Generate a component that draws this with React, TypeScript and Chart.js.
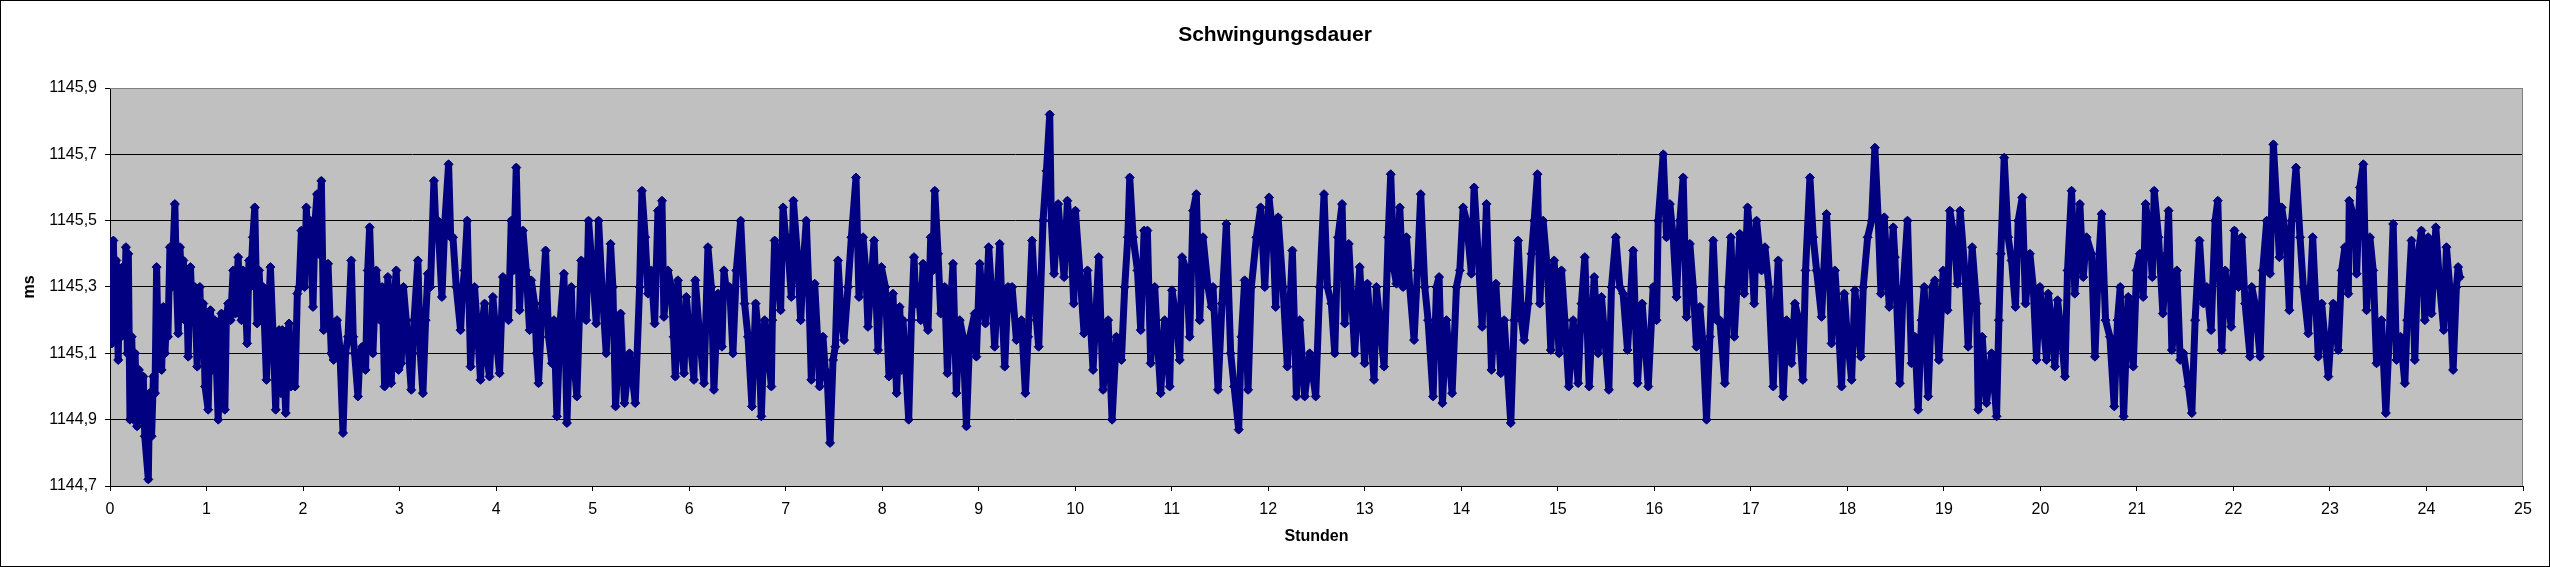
import { useEffect, useRef } from "react";
import { Chart, registerables } from "chart.js";

Chart.register(...registerables);

const TITLE = "Schwingungsdauer";
const X_TITLE = "Stunden";
const Y_TITLE = "ms";
const X_MIN = 0;
const X_MAX = 25;
const X_STEP = 1;
const Y_MIN = 1144.7;
const Y_MAX = 1145.9;
const Y_STEP = 0.2;

// [Stunden, ms] – readings, hour by hour
const BLOCK_00_03: [number, number][] = [
  [0.0, 1145.15], [0.008, 1145.43], [0.02, 1145.13], [0.035, 1145.44], [0.05, 1145.2], [0.065, 1145.38],
  [0.085, 1145.08], [0.1, 1145.35], [0.115, 1145.15], [0.13, 1145.36], [0.15, 1145.2], [0.165, 1145.42],
  [0.18, 1145.1], [0.19, 1145.4], [0.207, 1144.9], [0.225, 1145.15], [0.245, 1144.9], [0.26, 1145.1],
  [0.28, 1144.88], [0.3, 1145.05], [0.32, 1144.9], [0.345, 1145.03], [0.36, 1144.85], [0.397, 1144.72],
  [0.41, 1144.98], [0.431, 1144.85], [0.45, 1145.03], [0.466, 1144.98], [0.483, 1145.36], [0.5, 1145.1],
  [0.517, 1145.22], [0.535, 1145.05], [0.552, 1145.24], [0.57, 1145.1], [0.586, 1145.22], [0.6, 1145.15],
  [0.621, 1145.42], [0.64, 1145.3], [0.672, 1145.55], [0.69, 1145.3], [0.707, 1145.16], [0.725, 1145.42],
  [0.741, 1145.3], [0.76, 1145.38], [0.776, 1145.2], [0.79, 1145.35], [0.81, 1145.09], [0.834, 1145.36],
  [0.855, 1145.2], [0.879, 1145.3], [0.903, 1145.06], [0.931, 1145.3], [0.95, 1145.1], [0.966, 1145.25],
  [0.985, 1145.0], [1.017, 1144.93], [1.041, 1145.23], [1.06, 1145.05], [1.086, 1145.2], [1.121, 1144.9],
  [1.14, 1145.1], [1.155, 1145.22], [1.175, 1145.05], [1.19, 1144.93], [1.205, 1145.2], [1.224, 1145.25],
  [1.25, 1145.2], [1.276, 1145.35], [1.3, 1145.22], [1.328, 1145.39], [1.345, 1145.25], [1.362, 1145.2],
  [1.38, 1145.35], [1.397, 1145.3], [1.421, 1145.13], [1.44, 1145.38], [1.455, 1145.3], [1.48, 1145.45],
  [1.5, 1145.54], [1.524, 1145.19], [1.545, 1145.35], [1.565, 1145.2], [1.586, 1145.3], [1.621, 1145.02],
  [1.64, 1145.2], [1.662, 1145.36], [1.69, 1145.15], [1.717, 1144.93], [1.735, 1145.15], [1.752, 1145.17],
  [1.77, 1144.98], [1.786, 1145.17], [1.821, 1144.92], [1.84, 1145.15], [1.855, 1145.19], [1.875, 1145.0],
  [1.89, 1145.15], [1.917, 1145.0], [1.941, 1145.28], [1.96, 1145.3], [1.983, 1145.47], [2.0, 1145.32],
  [2.017, 1145.3], [2.034, 1145.54], [2.055, 1145.4], [2.076, 1145.5], [2.103, 1145.24], [2.125, 1145.5],
  [2.145, 1145.58], [2.16, 1145.4], [2.19, 1145.62], [2.214, 1145.17], [2.235, 1145.3], [2.259, 1145.37],
  [2.28, 1145.2], [2.293, 1145.1], [2.317, 1145.08], [2.352, 1145.2], [2.38, 1145.12], [2.414, 1144.86],
  [2.44, 1145.1], [2.466, 1145.15], [2.5, 1145.38], [2.52, 1145.15], [2.534, 1145.1], [2.569, 1144.97],
  [2.59, 1145.1], [2.614, 1145.12], [2.648, 1145.05], [2.67, 1145.35], [2.69, 1145.48], [2.71, 1145.3],
  [2.724, 1145.1], [2.759, 1145.35], [2.78, 1145.25], [2.8, 1145.2], [2.82, 1145.3], [2.845, 1145.0],
  [2.879, 1145.33], [2.914, 1145.01], [2.94, 1145.25], [2.966, 1145.35],
];

const BLOCK_03_05: [number, number][] = [
  [2.99, 1145.05], [3.017, 1145.07], [3.04, 1145.3], [3.069, 1145.2], [3.121, 1144.99], [3.15, 1145.2],
  [3.19, 1145.38], [3.215, 1145.1], [3.242, 1144.98], [3.27, 1145.2], [3.293, 1145.34], [3.32, 1145.3],
  [3.356, 1145.62], [3.38, 1145.45], [3.397, 1145.5], [3.439, 1145.27], [3.47, 1145.5], [3.508, 1145.67],
  [3.53, 1145.45], [3.553, 1145.45], [3.587, 1145.3], [3.632, 1145.17], [3.655, 1145.3], [3.673, 1145.35],
  [3.701, 1145.5], [3.736, 1145.06], [3.777, 1145.3], [3.8, 1145.2], [3.839, 1145.02], [3.86, 1145.2],
  [3.881, 1145.25], [3.9, 1145.1], [3.932, 1145.03], [3.967, 1145.27], [4.0, 1145.15], [4.036, 1145.04],
  [4.071, 1145.33], [4.1, 1145.28], [4.129, 1145.2], [4.157, 1145.5], [4.18, 1145.35], [4.209, 1145.66],
  [4.243, 1145.23], [4.278, 1145.47], [4.312, 1145.35], [4.347, 1145.17], [4.364, 1145.32], [4.399, 1145.25],
  [4.42, 1145.1], [4.44, 1145.01], [4.478, 1145.25], [4.513, 1145.41], [4.544, 1145.15], [4.578, 1145.07],
  [4.6, 1145.2], [4.63, 1144.91], [4.665, 1145.2], [4.703, 1145.34], [4.734, 1144.89], [4.779, 1145.3],
  [4.8, 1145.1], [4.837, 1144.97], [4.882, 1145.38], [4.91, 1145.3], [4.934, 1145.2], [4.958, 1145.5],
  [5.003, 1145.33], [5.038, 1145.19], [5.062, 1145.5], [5.097, 1145.3], [5.141, 1145.1], [5.186, 1145.43],
  [5.21, 1145.3], [5.238, 1144.94], [5.29, 1145.22], [5.331, 1144.95], [5.383, 1145.1], [5.442, 1144.95],
  [5.487, 1145.3], [5.511, 1145.59],
];

const BLOCK_05_08: [number, number][] = [
  [5.545, 1145.45], [5.574, 1145.28], [5.608, 1145.35], [5.643, 1145.19], [5.677, 1145.53], [5.7, 1145.45],
  [5.719, 1145.56], [5.739, 1145.21], [5.781, 1145.35], [5.815, 1145.3], [5.84, 1145.15], [5.857, 1145.03],
  [5.884, 1145.32], [5.91, 1145.15], [5.947, 1145.04], [5.971, 1145.27], [6.005, 1145.15], [6.05, 1145.02],
  [6.064, 1145.32], [6.109, 1145.15], [6.154, 1145.01], [6.195, 1145.42], [6.23, 1145.3], [6.257, 1144.99],
  [6.299, 1145.28], [6.34, 1145.12], [6.361, 1145.35], [6.39, 1145.28], [6.42, 1145.3], [6.454, 1145.1],
  [6.489, 1145.35], [6.534, 1145.5], [6.575, 1145.25], [6.61, 1145.15], [6.651, 1144.94], [6.689, 1145.25],
  [6.72, 1145.15], [6.748, 1144.91], [6.783, 1145.2], [6.82, 1145.1], [6.852, 1145.0], [6.862, 1145.2],
  [6.886, 1145.44], [6.914, 1145.38], [6.948, 1145.23], [6.973, 1145.54], [7.0, 1145.45], [7.017, 1145.45],
  [7.059, 1145.27], [7.08, 1145.56], [7.121, 1145.4], [7.156, 1145.2], [7.19, 1145.4], [7.214, 1145.5],
  [7.239, 1145.3], [7.266, 1145.02], [7.301, 1145.31], [7.33, 1145.15], [7.352, 1145.0], [7.387, 1145.15],
  [7.41, 1145.05], [7.432, 1145.02], [7.46, 1144.83], [7.491, 1145.08], [7.515, 1145.12], [7.542, 1145.38],
  [7.577, 1145.2], [7.605, 1145.14], [7.646, 1145.3], [7.681, 1145.45], [7.729, 1145.63], [7.76, 1145.27],
  [7.802, 1145.45], [7.83, 1145.35], [7.853, 1145.18], [7.916, 1145.44], [7.957, 1145.11], [7.992, 1145.36],
  [8.033, 1145.3], [8.071, 1145.03], [8.112, 1145.28],
];

const BLOCK_08_10: [number, number][] = [
  [8.15, 1144.98], [8.182, 1145.24], [8.2, 1145.05], [8.216, 1145.2], [8.275, 1144.9], [8.303, 1145.2],
  [8.33, 1145.39], [8.35, 1145.25], [8.372, 1145.3], [8.4, 1145.2], [8.424, 1145.37], [8.45, 1145.2],
  [8.475, 1145.17], [8.503, 1145.45], [8.525, 1145.35], [8.545, 1145.59], [8.579, 1145.4], [8.607, 1145.22],
  [8.648, 1145.3], [8.676, 1145.04], [8.7, 1145.2], [8.734, 1145.37], [8.769, 1144.98], [8.804, 1145.2],
  [8.838, 1145.15], [8.873, 1144.88], [8.907, 1145.15], [8.959, 1145.22], [8.976, 1145.09], [9.011, 1145.37],
  [9.04, 1145.25], [9.07, 1145.19], [9.104, 1145.42], [9.13, 1145.3], [9.166, 1145.12], [9.218, 1145.43],
  [9.24, 1145.25], [9.27, 1145.06], [9.304, 1145.3], [9.346, 1145.3], [9.391, 1145.14], [9.443, 1145.2],
  [9.484, 1144.98], [9.512, 1145.15], [9.553, 1145.44], [9.598, 1145.2], [9.622, 1145.12], [9.667, 1145.5],
  [9.702, 1145.65], [9.736, 1145.82], [9.753, 1145.5], [9.781, 1145.34], [9.823, 1145.55], [9.85, 1145.45],
  [9.885, 1145.33], [9.919, 1145.56], [9.954, 1145.45], [9.985, 1145.25], [10.002, 1145.53], [10.047, 1145.35],
  [10.092, 1145.16], [10.127, 1145.35], [10.185, 1145.05], [10.244, 1145.39], [10.289, 1144.99], [10.341, 1145.2],
  [10.382, 1144.9], [10.427, 1145.15], [10.479, 1145.08], [10.513, 1145.3], [10.545, 1145.45], [10.565, 1145.63],
  [10.6, 1145.45], [10.645, 1145.35], [10.679, 1145.17], [10.714, 1145.47],
];

const BLOCK_10_13: [number, number][] = [
  [10.748, 1145.47], [10.782, 1145.07], [10.824, 1145.3], [10.86, 1145.1], [10.886, 1144.98], [10.927, 1145.2],
  [10.979, 1145.0], [11.003, 1145.29], [11.048, 1145.2], [11.083, 1145.08], [11.107, 1145.39], [11.152, 1145.35],
  [11.186, 1145.15], [11.221, 1145.53], [11.255, 1145.58], [11.29, 1145.2], [11.324, 1145.45], [11.376, 1145.3],
  [11.411, 1145.24], [11.428, 1145.3], [11.48, 1144.99], [11.521, 1145.25], [11.566, 1145.49], [11.611, 1145.1],
  [11.646, 1145.0], [11.694, 1144.87], [11.722, 1145.15], [11.756, 1145.32], [11.791, 1144.99], [11.825, 1145.3],
  [11.877, 1145.45], [11.922, 1145.54], [11.964, 1145.3], [12.008, 1145.57], [12.05, 1145.45], [12.077, 1145.24],
  [12.102, 1145.51], [12.153, 1145.3], [12.198, 1145.06], [12.25, 1145.41], [12.292, 1144.97], [12.326, 1145.2],
  [12.378, 1144.97], [12.43, 1145.1], [12.492, 1144.97], [12.533, 1145.3], [12.578, 1145.58], [12.613, 1145.3],
  [12.654, 1145.25], [12.689, 1145.1], [12.723, 1145.45], [12.765, 1145.55], [12.793, 1145.19], [12.834, 1145.43],
  [12.896, 1145.1], [12.948, 1145.36], [12.999, 1145.07], [13.027, 1145.31], [13.096, 1145.02], [13.121, 1145.3],
  [13.2, 1145.06], [13.242, 1145.45], [13.269, 1145.64], [13.304, 1145.35],
];

const BLOCK_13_16: [number, number][] = [
  [13.328, 1145.31], [13.363, 1145.54], [13.397, 1145.3], [13.432, 1145.45], [13.466, 1145.3], [13.511, 1145.14],
  [13.546, 1145.35], [13.58, 1145.58], [13.622, 1145.3], [13.656, 1145.2], [13.708, 1144.97], [13.743, 1145.3],
  [13.77, 1145.33], [13.805, 1144.95], [13.846, 1145.2], [13.905, 1144.98], [13.95, 1145.3], [13.985, 1145.35],
  [14.019, 1145.54], [14.054, 1145.5], [14.105, 1145.34], [14.133, 1145.6], [14.175, 1145.4], [14.216, 1145.18],
  [14.261, 1145.55], [14.313, 1145.05], [14.358, 1145.31], [14.409, 1145.04], [14.444, 1145.2], [14.513, 1144.89],
  [14.548, 1145.2], [14.589, 1145.44], [14.624, 1145.2], [14.651, 1145.14], [14.693, 1145.25], [14.727, 1145.4],
  [14.755, 1145.5], [14.789, 1145.64], [14.814, 1145.25], [14.848, 1145.5], [14.893, 1145.35], [14.928, 1145.11],
  [14.962, 1145.38], [15.014, 1145.1], [15.038, 1145.35], [15.073, 1145.2], [15.114, 1145.0], [15.159, 1145.2],
  [15.211, 1145.01], [15.245, 1145.25], [15.28, 1145.39], [15.325, 1145.0], [15.377, 1145.33], [15.418, 1145.1],
  [15.453, 1145.27], [15.529, 1144.99], [15.556, 1145.3], [15.601, 1145.45], [15.643, 1145.3], [15.677, 1145.28],
  [15.722, 1145.11], [15.781, 1145.41], [15.826, 1145.01], [15.874, 1145.25],
];

const BLOCK_16_18: [number, number][] = [
  [15.937, 1145.0], [15.988, 1145.3], [16.023, 1145.2], [16.04, 1145.5], [16.092, 1145.7], [16.127, 1145.45],
  [16.161, 1145.55], [16.196, 1145.45], [16.23, 1145.27], [16.265, 1145.5], [16.299, 1145.63], [16.334, 1145.21],
  [16.368, 1145.43], [16.403, 1145.3], [16.437, 1145.12], [16.472, 1145.24], [16.506, 1145.12], [16.541, 1144.9],
  [16.576, 1145.15], [16.61, 1145.44], [16.645, 1145.2], [16.679, 1145.2], [16.731, 1145.01], [16.766, 1145.3],
  [16.793, 1145.45], [16.828, 1145.15], [16.886, 1145.46], [16.931, 1145.28], [16.966, 1145.54], [17.007, 1145.4],
  [17.035, 1145.25], [17.059, 1145.5], [17.111, 1145.35], [17.146, 1145.42], [17.187, 1145.3], [17.232, 1145.0],
  [17.256, 1145.2], [17.284, 1145.38], [17.335, 1144.97], [17.37, 1145.2], [17.422, 1145.07], [17.456, 1145.25],
  [17.498, 1145.2], [17.539, 1145.02], [17.567, 1145.35], [17.612, 1145.63], [17.646, 1145.45], [17.681, 1145.35],
  [17.733, 1145.21], [17.784, 1145.52], [17.819, 1145.3], [17.836, 1145.13], [17.871, 1145.35], [17.905, 1145.2],
  [17.94, 1145.0], [17.968, 1145.28], [18.0, 1145.15], [18.044, 1145.02], [18.078, 1145.29], [18.14, 1145.09],
  [18.165, 1145.3], [18.21, 1145.45], [18.251, 1145.5], [18.285, 1145.72], [18.32, 1145.5], [18.348, 1145.28],
  [18.382, 1145.51], [18.434, 1145.24], [18.475, 1145.48],
];

const BLOCK_18_21: [number, number][] = [
  [18.492, 1145.39], [18.544, 1145.01], [18.578, 1145.3], [18.623, 1145.5], [18.665, 1145.07], [18.699, 1145.15],
  [18.734, 1144.93], [18.768, 1145.2], [18.796, 1145.3], [18.837, 1144.97], [18.879, 1145.3], [18.907, 1145.32],
  [18.948, 1145.08], [18.993, 1145.35], [19.038, 1145.23], [19.062, 1145.53], [19.107, 1145.45], [19.141, 1145.31],
  [19.169, 1145.53], [19.217, 1145.35], [19.252, 1145.12], [19.293, 1145.42], [19.338, 1145.25], [19.356, 1144.93],
  [19.397, 1145.15], [19.442, 1144.95], [19.494, 1145.1], [19.546, 1144.91], [19.57, 1145.2], [19.59, 1145.4],
  [19.625, 1145.69], [19.666, 1145.45], [19.701, 1145.38], [19.742, 1145.24], [19.77, 1145.5], [19.812, 1145.57],
  [19.846, 1145.25], [19.891, 1145.4], [19.926, 1145.3], [19.96, 1145.08], [19.995, 1145.3], [20.064, 1145.08],
  [20.081, 1145.28], [20.115, 1145.2], [20.15, 1145.06], [20.178, 1145.26], [20.219, 1145.15], [20.254, 1145.03],
  [20.281, 1145.35], [20.323, 1145.59], [20.357, 1145.28], [20.409, 1145.55], [20.444, 1145.33], [20.478, 1145.45],
  [20.53, 1145.4], [20.565, 1145.09], [20.599, 1145.35], [20.634, 1145.52], [20.675, 1145.2], [20.72, 1145.15],
  [20.765, 1144.94], [20.799, 1145.2], [20.827, 1145.3], [20.862, 1144.91], [20.91, 1145.27], [20.962, 1145.06],
  [20.996, 1145.35], [21.031, 1145.4], [21.065, 1145.27], [21.09, 1145.55], [21.134, 1145.45], [21.159, 1145.33],
  [21.179, 1145.59],
];

const BLOCK_21_24: [number, number][] = [
  [21.224, 1145.45], [21.269, 1145.22], [21.31, 1145.4], [21.328, 1145.53], [21.362, 1145.11], [21.397, 1145.2],
  [21.414, 1145.35], [21.448, 1145.08], [21.483, 1145.1], [21.534, 1145.0], [21.569, 1144.92], [21.603, 1145.2],
  [21.648, 1145.44], [21.69, 1145.25], [21.724, 1145.3], [21.769, 1145.17], [21.81, 1145.5], [21.838, 1145.56],
  [21.879, 1145.11], [21.914, 1145.35], [21.976, 1145.18], [22.01, 1145.47], [22.052, 1145.3], [22.086, 1145.45],
  [22.121, 1145.25], [22.172, 1145.09], [22.19, 1145.3], [22.224, 1145.25], [22.276, 1145.09], [22.303, 1145.35],
  [22.345, 1145.5], [22.379, 1145.34], [22.414, 1145.73], [22.448, 1145.55], [22.476, 1145.39], [22.5, 1145.54],
  [22.545, 1145.45], [22.579, 1145.23], [22.603, 1145.5], [22.648, 1145.66], [22.69, 1145.45], [22.724, 1145.3],
  [22.776, 1145.16], [22.821, 1145.45], [22.879, 1145.09], [22.914, 1145.25], [22.983, 1145.03], [23.034, 1145.25],
  [23.086, 1145.11], [23.121, 1145.35], [23.155, 1145.42], [23.19, 1145.28], [23.2, 1145.56], [23.259, 1145.5],
  [23.276, 1145.34], [23.31, 1145.6], [23.345, 1145.67], [23.379, 1145.23], [23.414, 1145.45], [23.448, 1145.35],
  [23.483, 1145.07], [23.534, 1145.2], [23.579, 1144.92], [23.614, 1145.15], [23.655, 1145.49], [23.69, 1145.08],
  [23.731, 1145.15], [23.776, 1145.01], [23.8, 1145.2], [23.845, 1145.44], [23.879, 1145.08], [23.914, 1145.4],
  [23.948, 1145.47], [23.983, 1145.2], [24.017, 1145.45], [24.052, 1145.22], [24.097, 1145.48], [24.138, 1145.3],
  [24.179, 1145.17], [24.207, 1145.42], [24.241, 1145.3], [24.276, 1145.05], [24.31, 1145.3], [24.328, 1145.36],
  [24.345, 1145.33],
];

const BLOCKS = [
  BLOCK_00_03, BLOCK_03_05, BLOCK_05_08, BLOCK_08_10, BLOCK_10_13,
  BLOCK_13_16, BLOCK_16_18, BLOCK_18_21, BLOCK_21_24,
];

const FONT = "Arial, 'Liberation Sans', sans-serif";
const NAVY = "#000080";

const plotAreaPlugin = {
  id: "plotArea",
  beforeDraw(chart: any) {
    const { ctx, chartArea: a } = chart;
    ctx.save();
    ctx.fillStyle = "#C0C0C0";
    ctx.fillRect(a.left, a.top, a.right - a.left, a.bottom - a.top);
    ctx.restore();
  },
  afterDatasetsDraw(chart: any) {
    const { ctx, chartArea: a } = chart;
    ctx.save();
    ctx.strokeStyle = "#808080";
    ctx.lineWidth = 1;
    ctx.beginPath();
    ctx.moveTo(a.left, Math.round(a.top) + 0.5);
    ctx.lineTo(Math.round(a.right) - 0.5, Math.round(a.top) + 0.5);
    ctx.lineTo(Math.round(a.right) - 0.5, a.bottom);
    ctx.stroke();
    ctx.restore();
  },
};

export default function App() {
  const ref = useRef<HTMLCanvasElement | null>(null);

  useEffect(() => {
    if (!ref.current) return;
    const points = BLOCKS.flat().map(([x, y]) => ({ x, y }));
    const chart = new Chart(ref.current, {
      type: "line",
      data: {
        datasets: [
          {
            label: TITLE,
            data: points,
            borderColor: NAVY,
            backgroundColor: NAVY,
            borderWidth: 7,
            borderJoinStyle: "round",
            borderCapStyle: "round",
            tension: 0,
            pointStyle: "rectRot",
            pointRadius: 4.5,
            pointBorderWidth: 1,
            pointBackgroundColor: NAVY,
            pointBorderColor: NAVY,
          },
        ],
      },
      options: {
        animation: false,
        responsive: false,
        devicePixelRatio: 1,
        layout: { padding: 0 },
        plugins: {
          legend: { display: false },
          tooltip: { enabled: false },
          title: {
            display: true,
            text: TITLE,
            color: "#000",
            font: { family: FONT, size: 21, weight: "bold" },
            padding: { top: 21.7, bottom: 40.1 },
          },
        },
        scales: {
          x: {
            type: "linear",
            position: "bottom",
            min: X_MIN,
            max: X_MAX,
            afterFit: (s: any) => {
              s.height = 80;
            },
            ticks: {
              stepSize: X_STEP,
              color: "#000",
              padding: 9,
              maxRotation: 0,
              autoSkip: false,
              font: { family: FONT, size: 16 },
            },
            grid: {
              drawOnChartArea: false,
              drawTicks: true,
              tickLength: 5,
              color: "#000",
            },
            border: { display: true, color: "#000", width: 1 },
            title: {
              display: true,
              text: X_TITLE,
              color: "#000",
              font: { family: FONT, size: 16, weight: "bold" },
              padding: { top: 0, bottom: 20 },
            },
          },
          y: {
            type: "linear",
            position: "left",
            min: Y_MIN,
            max: Y_MAX,
            afterFit: (s: any) => {
              s.width = 109;
            },
            ticks: {
              stepSize: Y_STEP,
              color: "#000",
              padding: 8,
              font: { family: FONT, size: 16 },
              callback: (v: any) => Number(v).toFixed(1).replace(".", ","),
            },
            grid: {
              drawTicks: true,
              tickLength: 5,
              lineWidth: 1,
              tickColor: "#000",
              color: (c: any) =>
                c.tick && Math.abs(c.tick.value - Y_MAX) < 1e-6 ? "#808080" : "#000",
            },
            border: { display: true, color: "#000", width: 1 },
            title: {
              display: true,
              text: Y_TITLE,
              color: "#000",
              font: { family: FONT, size: 16, weight: "bold" },
              padding: { top: 19, bottom: 0 },
            },
          },
          rechts: {
            type: "linear",
            position: "right",
            display: true,
            afterFit: (s: any) => {
              s.width = 26;
            },
            ticks: { display: false },
            grid: { display: false, drawTicks: false },
            border: { display: false },
          },
        },
      },
      plugins: [plotAreaPlugin],
    } as any);
    return () => chart.destroy();
  }, []);

  return (
    <div
      style={{
        position: "absolute",
        left: 0,
        top: 0,
        width: 2550,
        height: 567,
        boxSizing: "border-box",
        border: "1px solid #000",
        background: "#fff",
      }}
    >
      <canvas ref={ref} width={2548} height={565} style={{ display: "block" }} />
    </div>
  );
}
